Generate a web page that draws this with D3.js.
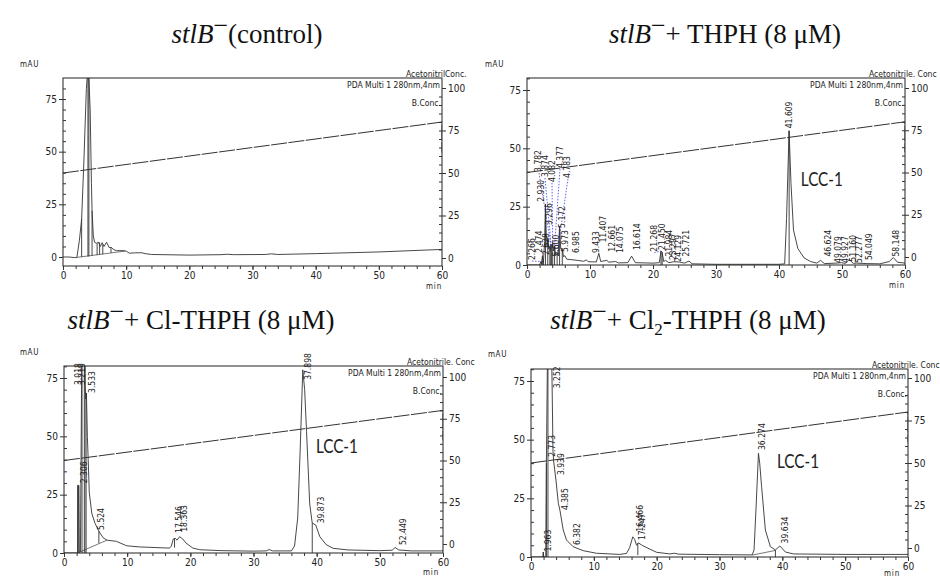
<!DOCTYPE html>
<html>
<head>
<meta charset="utf-8">
<style>
	body { margin: 0; background: #fff; }
	text { font-family: "Liberation Sans Narrow", "DejaVu Sans Condensed", sans-serif; fill: #222; }
	.title { font-family: "Liberation Serif", serif; fill: #111; }
	.lcc { font-family: Lato, "Open Sans", sans-serif; fill: #222; }
</style>
</head>
<body>
<svg width="940" height="577"></svg>
<script src="https://d3js.org/d3.v7.min.js"></script>
<script>
	const svg = d3.select("svg");

	// titles: [text, style] segments
	const title1 = [["stlB", "i"], ["\u2212", "sup"], ["(control)", ""]];
	const title2 = [["stlB", "i"], ["\u2212", "sup"], ["+ THPH (8 \u03bcM)", ""]];
	const title3 = [["stlB", "i"], ["\u2212", "sup"], ["+ Cl-THPH (8 \u03bcM)", ""]];
	const title4 = [["stlB", "i"], ["\u2212", "sup"], ["+ Cl", ""], ["2", "sub"], ["-THPH (8 \u03bcM)", ""]];

	const xTicks = [0, 10, 20, 30, 40, 50, 60];
	const yTicks = [0, 25, 50, 75];
	const rTicks = [0, 25, 50, 75, 100];

	// B.Conc gradient (min, %)
	const gradTime = [0, 60, 60];
	const gradB = [50, 80, 62];

	// ---- control ----
	const ctrlTrace = [[0,0],[1,0],[1.8,-0.3],[2.2,-0.2],[2.6,8],[2.95,18],[3.3,45],[3.7,80],[4.0,92],[4.3,70],[4.5,35],[4.6,22],[4.8,10],[5.0,7],[5.3,6.5],[5.6,7],[5.9,5],[6.2,6.8],[6.5,5],[6.9,7],[7.3,4.5],[7.7,4.5],[8.0,3.5],[8.5,3],[9.5,3],[10,2.8],[10.5,1.8],[11.5,2],[12.5,2],[13,1.6],[14,1.2],[20,0.9],[25,1.1],[26,1.3],[27,1.1],[32,1.2],[33,1.5],[34,1.2],[40,1.6],[50,2.4],[60,3.6]];
	const ctrlDrops = [[2.95,0,18],[3.95,0.2,85],[4.1,0.3,85],[4.6,0.6,22],[5.4,0.9,6.5],[5.8,1.1,7],[6.3,1.3,6],[7.6,1.9,4.5]];
	const ctrlBase = [[2.2,-0.2],[9.8,2.8]];
	const ctrlLabels = [];

	// ---- THPH ----
	const thphTrace = [[0,0],[2.0,0],[2.2,1.5],[2.3,0.5],[2.45,4],[2.6,1],[2.8,10],[2.93,26],[3.05,14],[3.2,8],[3.3,11.5],[3.45,7],[3.6,8],[3.7,6],[3.8,9],[3.9,7],[4.08,9.5],[4.2,6],[4.38,8],[4.55,4],[4.78,5],[4.95,4],[5.17,16.5],[5.35,7],[5.6,7],[5.8,3.5],[6.0,4],[6.3,2.5],[7.0,2.3],[8,2],[9,1.6],[9.43,2.2],[9.7,1.4],[11,1.3],[11.4,5],[11.7,1.5],[12.66,2],[13,1.2],[14.07,1.5],[14.5,0.9],[16,1],[16.6,3.8],[17.2,1],[20,0.8],[21,1],[21.27,6],[21.45,5.5],[21.7,1.5],[21.98,2],[22.5,1],[23.3,1.4],[24.13,1.3],[25,0.8],[25.72,1.7],[26.2,0.5],[30,0.3],[40,0.3],[40.9,0.5],[41.2,20],[41.6,57.5],[41.9,35],[42.3,15],[43,7],[44,3],[45,1.5],[46,0.8],[46.6,2],[47.2,0.6],[49,0.8],[49.9,1],[50.5,0.7],[51.16,2.3],[51.8,0.7],[52.3,0.8],[54,0.6],[56,0.5],[57.5,1.5],[58.15,3.2],[58.8,1.2],[60,0.8]];
	const thphDrops = [[2.266,0,1.5],[2.474,0,4],[2.628,0,2],[2.93,0,26],[3.296,0,11.5],[3.626,0,8],[3.782,0,9],[3.874,0,7],[4.082,0,9.5],[4.377,0,8],[4.783,0,5],[5.172,0,16.5],[5.6,0,7],[21.268,0,6],[21.45,0,5.5],[41.609,0,57.5]];
	const thphBase = [];
	// [label, label time, label mAU, leader target mAU]
	const thphLabels = [["2.266",0.8,2.1,1.5],["2.474",2.0,5.3,null],["2.628",3.13,4.3,null],["2.930",2.33,27.1,null],["3.296",3.65,17.1,null],["3.782",1.9,39.9,9],["3.874",2.86,37.7,7],["4.082",3.97,35.6,9.5],["4.377",5.24,41.6,8],["4.783",6.5,37.3,5],["5.172",5.6,15.9,null],["5.600",4.7,3.6,null],["5.973",6.1,5.6,null],["6.985",7.86,5.1,null],["9.433",11.0,5.1,null],["11.407",12.2,9.6,null],["12.661",13.5,5.7,null],["14.075",14.8,5.1,null],["16.614",17.6,6.4,null],["21.268",20.2,5.7,6],["21.450",21.5,6.4,null],["21.984",22.6,3.6,null],["23.297",23.3,2.1,null],["24.129",24.1,1.4,null],["25.721",25.3,3.6,null],["41.609",41.7,58.6,null],["46.624",47.8,3.6,null],["49.079",49.5,0.9,null],["49.927",50.5,0.9,null],["51.160",51.8,1.4,null],["52.277",52.7,0.9,null],["54.049",54.4,2.1,null],["58.148",58.7,3.6,null]];

	// ---- Cl-THPH ----
	const clTrace = [[0,0],[2.0,0],[2.15,0],[2.2,29],[2.3,29],[2.4,0.3],[2.6,0.5],[2.75,60],[2.85,100],[3.25,100],[3.35,72],[3.45,66],[3.55,68.6],[3.7,50],[3.83,40],[4.0,26],[4.4,17],[4.9,12.8],[5.6,9],[6.2,6.5],[6.8,5.5],[8.3,5],[9.9,3.1],[12,2.6],[16.7,2.1],[17.0,3],[17.3,6],[17.6,6.3],[17.9,5.5],[18.3,7],[18.8,6],[19.3,4.3],[20.4,2.1],[21.5,1.4],[25,1],[30,0.8],[32,0.9],[32.5,1.5],[33,0.9],[36,0.9],[36.5,3],[37,15],[37.4,45],[37.8,78.5],[38.1,70],[38.4,52],[38.9,21],[39.3,12.8],[39.85,12],[40.5,7],[41.5,3.6],[42.6,2],[45,1.3],[50,1],[52,1.2],[52.4,2.4],[53,1.3],[55,0.9],[60,0.9]];
	const clDrops = [[2.18,0,29],[2.36,0,29],[2.85,0,100],[3.22,0,100],[3.5,0,68],[5.52,4.2,9.3],[17.5,2.3,6.3],[39.3,0,12.8]];
	const clBase = [[2.4,0.3],[6.8,5.5]];
	const clShade = [3.25, 3.48];
	const clLabels = [["3.018",2.26,72,null],["3.219",2.96,72,null],["3.533",4.48,68.6,null],["2.306",3.17,29.9,null],["5.524",5.97,9.9,null],["17.546",18.25,8.6,null],["18.363",19.0,9.1,null],["37.898",38.7,74.2,null],["39.873",40.8,12.7,null],["52.449",53.7,3.4,null]];

	// ---- Cl2-THPH ----
	const cl2Trace = [[0,0],[1.9,0],[1.96,2.1],[2.02,0],[2.35,0.3],[2.45,40],[2.6,80],[2.75,100],[3.2,100],[3.35,75],[3.5,45],[3.6,41],[3.97,32.8],[4.35,22.9],[4.6,20],[5.13,11.5],[5.66,7.2],[6.7,4.4],[8.3,2.7],[10.4,1.6],[14.1,1.1],[15.2,1.5],[15.7,4],[16.2,8.6],[16.5,7.5],[16.8,5],[17.1,6],[17.8,4.8],[18.8,3.5],[20,2],[22.1,1.3],[22.8,1.6],[23.5,1.2],[30,1],[35.2,0.9],[35.5,3],[35.8,20],[36.2,44.2],[36.4,40],[36.7,30],[37.3,11.5],[38.1,4.4],[38.9,3],[39.6,4.7],[40.5,2.1],[41.8,1.3],[50,1.1],[60,1.1]];
	const cl2Drops = [[1.96,0,2.1],[2.45,0,40],[2.7,0,95],[17.0,0.8,6],[38.9,0,3]];
	const cl2Base = [[35.2,0.8],[38.9,2.8]];
	const cl2Labels = [["1.963",2.76,2.3,null],["3.252",4.19,71.9,null],["2.773",3.46,42.7,null],["3.939",4.89,34.9,null],["4.385",5.42,20,null],["6.382",7.38,5.1,null],["16.466",17.37,10.8,null],["17.247",17.8,7.2,null],["36.274",36.9,45.6,null],["39.634",40.5,5.8,null]];

	const acetText = ["AcetonitrilConc.", "Acetonitrile. Conc", "Acetonitrile. Conc", "Acetonitrile. Conc"];

	// layout of the four panels (pixels)
	const panels = [
		{ title: title1, tx: 247, ty: 43, left: 63, right: 442, top: 78, bottom: 266, y0: 257, y75: 99, r0: 258, r100: 88, trace: ctrlTrace, drops: ctrlDrops, base: ctrlBase, labels: ctrlLabels, lcc: null, mau: [20, 67], minX: 442, minY: 289 },
		{ title: title2, tx: 725, ty: 43, left: 527, right: 905, top: 78, bottom: 265, y0: 265, y75: 90, r0: 257, r100: 88, trace: thphTrace, drops: thphDrops, base: thphBase, labels: thphLabels, lcc: [46.8, 34], mau: [485, 67], minX: 905, minY: 288 },
		{ title: title3, tx: 201, ty: 329, left: 64, right: 443, top: 366, bottom: 553, y0: 553, y75: 378, r0: 544, r100: 377, trace: clTrace, drops: clDrops, base: clBase, shade: clShade, labels: clLabels, lcc: [43.2, 42.8], mau: [20, 355], minX: 439, minY: 575 },
		{ title: title4, tx: 688, ty: 329, left: 531, right: 908, top: 369, bottom: 557, y0: 557, y75: 381, r0: 548, r100: 378, trace: cl2Trace, drops: cl2Drops, base: cl2Base, labels: cl2Labels, lcc: [42.5, 37.9], mau: [488, 357], minX: 900, minY: 576 },
	];

	svg.append("rect").attr("width", 940).attr("height", 577).attr("fill", "#fff");

	panels.forEach((p, i) => {
		const x = d3.scaleLinear().domain([0, 60]).range([p.left, p.right]);
		const y = d3.scaleLinear().domain([0, 75]).range([p.y0, p.y75]);
		const yr = d3.scaleLinear().domain([0, 100]).range([p.r0, p.r100]);
		const g = svg.append("g");

		// title
		const t = g.append("text").attr("class", "title")
			.attr("x", p.tx).attr("y", p.ty)
			.attr("text-anchor", "middle").style("font-size", "27px");
		let shift = 0;
		p.title.forEach(([s, st]) => {
			const ts = t.append("tspan").text(s);
			let dy = 0;
			if (st === "i") ts.style("font-style", "italic");
			if (st === "sup") { dy = -9; ts.style("font-size", "26px"); }
			if (st === "sub") { dy = 6; ts.style("font-size", "17px"); }
			ts.attr("dy", dy - shift);
			shift = dy;
		});

		g.append("clipPath").attr("id", "clip" + i)
			.append("rect")
			.attr("x", p.left).attr("y", p.top)
			.attr("width", p.right - p.left).attr("height", p.bottom - p.top);
		const plot = g.append("g").attr("clip-path", "url(#clip" + i + ")");

		if (p.shade) {
			plot.append("rect")
				.attr("x", x(p.shade[0])).attr("width", x(p.shade[1]) - x(p.shade[0]))
				.attr("y", p.top).attr("height", y(0) - p.top)
				.attr("fill", "#bbb");
		}

		const line = d3.line().x((d) => x(d[0])).y((d) => y(d[1]));

		if (p.base.length) {
			plot.append("path").attr("d", line(p.base))
				.attr("fill", "none").attr("stroke", "#555").attr("stroke-width", 0.8);
		}

		plot.selectAll("line.drop")
			.data(p.drops)
			.join("line")
			.attr("class", "drop")
			.attr("x1", (d) => x(d[0])).attr("x2", (d) => x(d[0]))
			.attr("y1", (d) => y(d[1])).attr("y2", (d) => y(d[2]))
			.attr("stroke", "#333").attr("stroke-width", 0.9);

		plot.append("path").attr("d", line(p.trace))
			.attr("fill", "none").attr("stroke", "#333").attr("stroke-width", 0.9);

		// gradient
		plot.append("path")
			.attr("d", d3.line().x((d, j) => x(d)).y((d, j) => yr(gradB[j]))(gradTime))
			.attr("fill", "none").attr("stroke", "#333").attr("stroke-width", 1)
			.attr("stroke-dasharray", "16,1.5");

		// peak labels
		const lab = g.append("g");
		lab.selectAll("line")
			.data(p.labels.filter((d) => d[3] !== null))
			.join("line")
			.attr("x1", (d) => x(d[1])).attr("y1", (d) => y(d[2]) + 1)
			.attr("x2", (d) => x(+d[0])).attr("y2", (d) => y(d[3]))
			.attr("stroke", "#4040e0").attr("stroke-width", 0.8)
			.attr("stroke-dasharray", "1.5,1.5");
		lab.selectAll("text")
			.data(p.labels)
			.join("text")
			.attr("transform", (d) => "translate(" + x(d[1]) + "," + y(d[2]) + ") rotate(-90)")
			.attr("dominant-baseline", "middle")
			.style("font-size", "8.5px")
			.text((d) => d[0]);

		// frame
		g.append("rect")
			.attr("x", p.left).attr("y", p.top)
			.attr("width", p.right - p.left).attr("height", p.bottom - p.top)
			.attr("fill", "none").attr("stroke", "#222").attr("stroke-width", 1);

		// axes
		const ax = g.append("g").attr("transform", "translate(0," + p.bottom + ")")
			.call(d3.axisBottom(x).tickValues(xTicks).tickSize(4).tickFormat(d3.format("d")));
		g.append("g").attr("transform", "translate(0," + p.bottom + ")")
			.call(d3.axisBottom(x).tickValues(d3.range(0, 61, 2)).tickSize(3).tickFormat(""));
		const al = g.append("g").attr("transform", "translate(" + p.left + ",0)")
			.call(d3.axisLeft(y).tickValues(yTicks).tickSize(4));
		g.append("g").attr("transform", "translate(" + p.left + ",0)")
			.call(d3.axisLeft(y).tickValues(d3.range(5, y.invert(p.top), 5)).tickSize(-3).tickFormat(""));
		const ar = g.append("g").attr("transform", "translate(" + p.right + ",0)")
			.call(d3.axisRight(yr).tickValues(rTicks).tickSize(4));
		g.append("g").attr("transform", "translate(" + p.right + ",0)")
			.call(d3.axisRight(yr).tickValues(d3.range(5, 100, 5)).tickSize(-3).tickFormat(""));
		g.selectAll(".domain").remove();
		g.selectAll(".tick line").attr("stroke", "#333");
		g.selectAll(".tick text").style("font-size", "10px").attr("fill", "#222")
			.style("font-family", "'Liberation Sans Narrow','DejaVu Sans Condensed',sans-serif");
		ax.selectAll(".tick text").attr("dy", "0.6em");
		al.selectAll(".tick text").attr("dx", "1px");
		ar.selectAll(".tick text").attr("dx", "-1px");

		// texts around the frame
		g.append("text").attr("x", p.mau[0]).attr("y", p.mau[1])
			.style("font-size", "8px").style("letter-spacing", "0.6px").text("mAU");
		g.append("text").attr("x", p.minX).attr("y", p.minY)
			.attr("text-anchor", "end").style("font-size", "8px").style("letter-spacing", "0.8px").text("min");
		g.append("text").attr("x", p.right - 36).attr("y", p.top - 1)
			.style("font-size", "8.5px").text(acetText[i]);
		g.append("text").attr("x", p.right - 2).attr("y", p.top + 10)
			.attr("text-anchor", "end").style("font-size", "8.5px").text("PDA Multi 1 280nm,4nm");
		g.append("text").attr("x", p.right - 1).attr("y", p.top + 28)
			.attr("text-anchor", "end").style("font-size", "8.5px").text("B.Conc.");

		if (p.lcc) {
			g.append("text").attr("class", "lcc")
				.attr("x", x(p.lcc[0])).attr("y", y(p.lcc[1]))
				.attr("text-anchor", "middle")
				.attr("textLength", 42).attr("lengthAdjust", "spacingAndGlyphs")
				.style("font-size", "19px").text("LCC-1");
		}
	});
</script>
</body>
</html>
